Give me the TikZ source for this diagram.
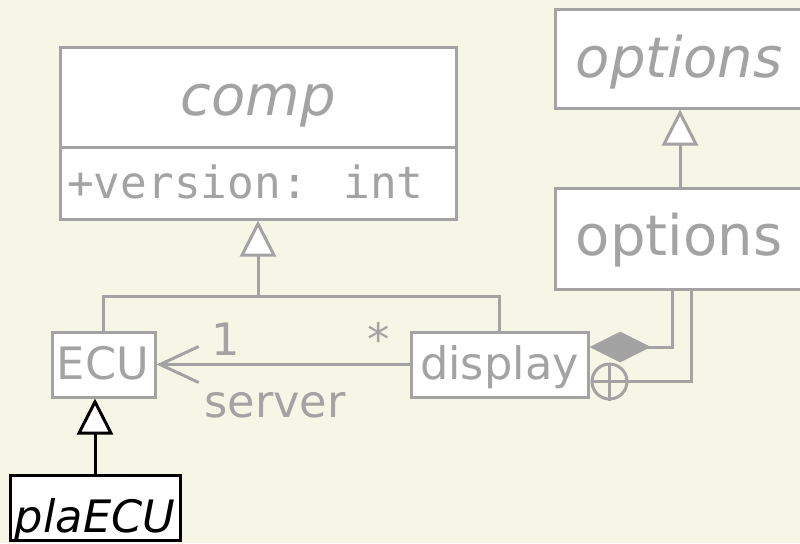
\documentclass[tikz,border=0pt]{standalone}
\usepackage{fontspec}
\setmainfont{DejaVu Sans}
\newfontfamily\monofnt{DejaVu Sans Mono}
\usetikzlibrary{arrows.meta}
\definecolor{bg}{HTML}{F6F6E7}
\definecolor{gr}{HTML}{A3A3A3}
\begin{document}
\begin{tikzpicture}[x=0.75pt,y=-0.75pt,
  box/.style={draw=gr, line width=2.25pt, fill=white, rectangle, inner sep=0pt},
  blackbox/.style={draw=black, line width=2.25pt, fill=white, rectangle, inner sep=0pt},
  txt/.style={anchor=base, inner sep=0pt, text=gr},
  bigfont/.style={font=\fontsize{42}{50}\selectfont},
  smallfont/.style={font=\fontsize{33.5}{40}\selectfont},
  conn/.style={draw=gr, line width=2.25pt},
  gentip/.style={-{Triangle[open, fill=white, length=27pt, width=27pt]}}]
\useasboundingbox (0,0) rectangle (800,543);
\fill[bg] (0,0) rectangle (800,543);
\begin{scope}
\clip (0,0) rectangle (800,543);
% boxes
\node[box, minimum width=297pt, minimum height=75pt] (comp) at (258,97) {};
\node[box, minimum width=297pt, minimum height=54pt] (compattr) at (258,183) {};
\node[box, minimum width=187.5pt, minimum height=74.25pt] (optabs) at (680,58.5) {};
\node[box, minimum width=187.5pt, minimum height=75.75pt] (opt) at (680,238.5) {};
\node[box, minimum width=77.25pt, minimum height=48.75pt] (ECU) at (103.5,364.5) {};
\node[box, minimum width=132.75pt, minimum height=48.75pt] (display) at (499.5,364.5) {};
\node[blackbox, minimum width=127.5pt, minimum height=48.75pt] (pla) at (95,507.5) {};
% texts
\node[txt, bigfont] (tcomp) at (258,115) {\itshape comp};
\node[txt, anchor=base west, font=\monofnt\fontsize{33.3}{40}\selectfont] (tattr) at (67,198) {+version: int};
\node[txt, bigfont] (toptabs) at (679,77) {\itshape options};
\node[txt, bigfont] (topt) at (679,255) {options};
\node[txt, smallfont] (tECU) at (103,379) {ECU};
\node[txt, smallfont] (tdisplay) at (499.5,379) {display};
\node[txt, smallfont, text=black] (tpla) at (95,532) {\itshape plaECU};
\node[txt, smallfont] (tone) at (226,355) {1};
\node[txt, smallfont] (tstar) at (379,355) {*};
\node[txt, smallfont] (tserver) at (275,417) {server};
% generalizations
\coordinate (j) at (258,296);
\draw[conn] (ECU.north) |- (j) -| (display.north);
\draw[conn, gentip] (j) -- (compattr.south);
\draw[conn, gentip] (opt.north) -- (optabs.south);
\draw[line width=2.25pt, draw=black, gentip] (pla.north) -- (pla.north |- ECU.south);
% association
\draw[conn, -{Straight Barb[length=29pt, width=27pt]}] (display.west) -- (ECU.east);
% composition
\coordinate (o1) at ([xshift=-6pt]opt.south);
\coordinate (o2) at ([xshift=8.25pt]opt.south);
\draw[conn, -{Diamond[length=46pt, width=23pt, fill=gr]}] (o1) |- ([yshift=13.1pt]display.east);
% nesting
\node[circle, draw=gr, line width=2.25pt, fill=bg, minimum size=26.25pt, inner sep=0pt] (circ) at (609.5,381.5) {};
\draw[conn] (circ.north) -- (circ.south) (circ.west) -- (circ.east);
\draw[conn] (o2) |- (circ.east);
\end{scope}
\end{tikzpicture}
\end{document}
